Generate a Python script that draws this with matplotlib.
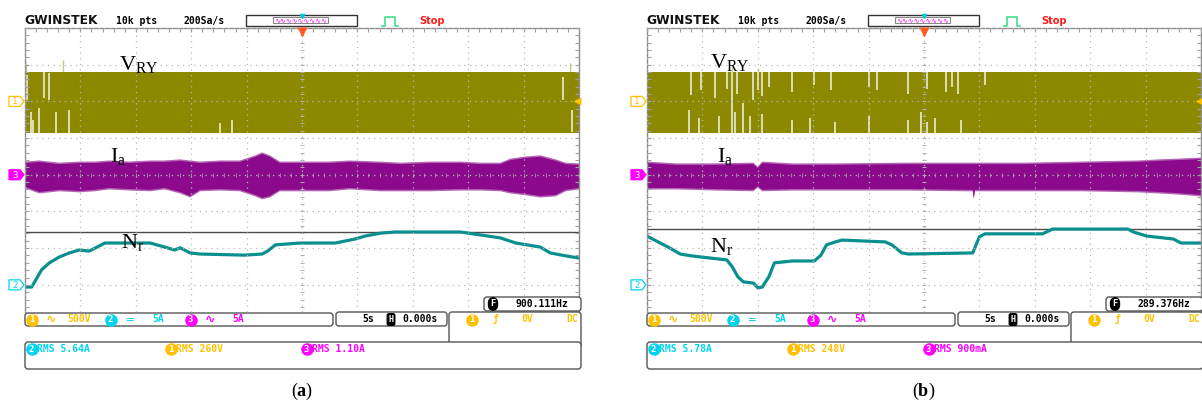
import numpy as np
import matplotlib
matplotlib.use("Agg")
import matplotlib.pyplot as plt
from matplotlib.patches import FancyBboxPatch, Rectangle, Polygon

plt.rcParams['mathtext.fontset'] = 'custom'
plt.rcParams['mathtext.rm'] = 'Liberation Serif'
plt.rcParams['mathtext.it'] = 'Liberation Serif:italic'
plt.rcParams['mathtext.bf'] = 'Liberation Serif:bold'

W, H = 1202, 403
OLIVE = '#8c8900'
PURPLE = '#8b0a8b'
TEAL = '#0a8f8f'
YEL = '#ffc000'
CYAN = '#00d4ee'
MAG = '#ff00ff'
MONO = 'DejaVu Sans Mono'

# ---- scope data: time in s (5 s/div), amplitude in screen divisions ----
ch1_offset, ch2_offset, ch3_offset = 2.0, -3.0, 0.0

# V_RY band (CH1)
vry_t = [-25.0, 25.0]
vry_top = [2.80, 2.80]
vry_bot = [1.14, 1.14]

# white dropouts inside the V_RY band, (a)
gap_a_t = [-24.8, -24.5, -24.3, -23.7, -23.3, -22.8, -22.2, -21.0, -7.4, -6.3, 23.6, 24.4]
gap_a_top = [2.72, 1.71, 1.49, 1.82, 2.80, 2.77, 1.71, 1.77, 1.41, 1.49, 2.66, 1.77]
gap_a_bot = [2.04, 1.14, 1.14, 1.14, 2.09, 2.04, 1.14, 1.14, 1.14, 1.14, 2.04, 1.17]

# white dropouts inside the V_RY band, (b)
gap_b_t = [-21.0, -20.1, -18.9, -17.8, -17.3, -16.9, -15.4, -15.0, -14.6, -14.0, -11.9,
           -9.9, -8.4, -5.0, -4.2, -1.4, 0.3, 2.0, 2.5, 3.1, 5.5,
           -21.2, -20.3, -18.5, -17.3, -17.1, -16.3, -15.7, -14.6, -11.9, -10.3, -8.0,
           -5.0, -1.4, -0.3, 0.3, 1.0, 3.3]
gap_b_top = [2.80] * 21 + [1.77, 1.55, 1.60, 1.90, 1.70, 1.95, 1.60, 1.65, 1.50, 1.55, 1.45,
                           1.60, 1.50, 1.70, 1.45, 1.55, 1.50]
gap_b_bot = [2.17, 2.30, 2.10, 2.35, 1.90, 2.20, 2.05, 2.30, 2.15, 2.40, 2.25,
             2.45, 2.30, 2.40, 2.30, 2.20, 2.35, 2.25, 2.40, 2.20, 2.45] + [1.14] * 17

# thin spikes poking above the V_RY band
spike_a_t, spike_a_top = [-24.9, -21.6, 24.2], [3.05, 3.13, 3.05]
spike_b_t, spike_b_top = [-15.0, -17.3], [2.92, 2.95]

# I_a envelope (CH3), (a)
ia_a_t = [-25.0, -23.7, -21.9, -20.1, -18.7, -17.4, -15.6, -13.7, -12.4, -11.0, -10.1,
          -9.2, -7.4, -5.6, -4.2, -3.6, -2.9, -2.0, -0.2, 2.5, 4.3, 7.0, 8.9, 11.6,
          14.3, 16.1, 17.9, 18.8, 20.2, 21.5, 22.9, 23.8, 25.0]
ia_a_up = [0.32, 0.35, 0.29, 0.32, 0.32, 0.35, 0.32, 0.35, 0.35, 0.38, 0.35,
           0.32, 0.35, 0.35, 0.49, 0.57, 0.49, 0.32, 0.32, 0.32, 0.35, 0.32, 0.29, 0.32,
           0.32, 0.29, 0.29, 0.40, 0.46, 0.49, 0.38, 0.29, 0.27]
ia_a_lo = [-0.33, -0.47, -0.41, -0.44, -0.41, -0.36, -0.39, -0.41, -0.36, -0.47, -0.58,
           -0.41, -0.39, -0.41, -0.55, -0.63, -0.58, -0.41, -0.41, -0.41, -0.36, -0.41, -0.41, -0.41,
           -0.39, -0.39, -0.41, -0.47, -0.52, -0.58, -0.55, -0.41, -0.36]

# I_a envelope (CH3), (b)
ia_b_t = [-25.0, -22.3, -18.9, -15.4, -15.0, -14.6, -11.9, -8.4, -1.4, 3.7, 4.4, 4.5,
          4.6, 9.0, 14.2, 19.3, 21.2, 22.9, 25.0]
ia_b_up = [0.32, 0.27, 0.27, 0.29, 0.18, 0.32, 0.27, 0.27, 0.29, 0.29, 0.29, 0.29,
           0.29, 0.29, 0.32, 0.35, 0.38, 0.40, 0.43]
ia_b_lo = [-0.36, -0.36, -0.39, -0.41, -0.31, -0.41, -0.39, -0.39, -0.39, -0.41, -0.41, -0.63,
           -0.41, -0.41, -0.41, -0.44, -0.47, -0.50, -0.55]

# N_r speed trace (CH2)
nr_a_t = [-25.0, -24.4, -23.5, -22.8, -21.9, -21.0, -20.1, -19.2, -18.3, -17.8, -13.7,
          -12.4, -11.5, -11.0, -10.1, -9.2, -5.2, -3.6, -3.1, -2.4, -0.2, 3.0, 4.8,
          5.7, 7.1, 8.4, 14.3, 16.1, 17.9, 19.3, 21.5, 22.4, 23.8, 25.0]
nr_a_div = [-3.06, -3.06, -2.59, -2.40, -2.24, -2.13, -2.05, -2.08, -1.94, -1.86, -1.86,
            -1.97, -2.05, -1.99, -2.13, -2.16, -2.19, -2.16, -2.08, -1.91, -1.86, -1.86, -1.75,
            -1.67, -1.59, -1.56, -1.56, -1.64, -1.72, -1.86, -1.97, -2.13, -2.21, -2.27]
nr_b_t = [-25.0, -24.0, -23.1, -22.0, -21.0, -19.3, -17.8, -17.3, -16.8, -16.3, -15.4,
          -15.0, -14.6, -14.0, -13.5, -11.9, -9.9, -9.3, -8.8, -8.0, -7.4, -3.5, -2.9,
          -2.0, -1.4, 4.4, 5.0, 5.5, 10.7, 11.6, 18.4, 18.9, 20.1, 22.5, 23.2, 25.0]
nr_b_div = [-1.67, -1.83, -1.97, -2.16, -2.21, -2.27, -2.32, -2.51, -2.78, -2.92, -2.95,
            -3.08, -3.06, -2.78, -2.40, -2.35, -2.35, -2.19, -1.91, -1.83, -1.78, -1.83, -1.91,
            -2.13, -2.16, -2.13, -1.69, -1.61, -1.61, -1.48, -1.48, -1.56, -1.67, -1.75, -1.86, -1.86]
cursor_a, cursor_b = -1.56, -1.48

# readouts
freq_a, freq_b = '900.111Hz', '289.376Hz'
rms_a = ['RMS 5.64A', 'RMS 260V', 'RMS 1.10A']
rms_b = ['RMS 5.78A', 'RMS 248V', 'RMS 900mA']
captions = ['a', 'b']

fig = plt.figure(figsize=(W / 100, H / 100), dpi=100)
ov = fig.add_axes([0, 0, 1, 1])
ov.set_xlim(0, W)
ov.set_ylim(H, 0)
ov.axis('off')
ov.set_zorder(10)
ov.patch.set_alpha(0)


def scope_axes(left):
    ax = fig.add_axes([left / W, (H - 312) / H, 554 / W, 284 / H])
    ax.set_xlim(-25, 25)
    ax.set_ylim(-3.74, 4)
    ax.set_xticks(np.arange(-25, 26, 5))
    ax.set_yticks(np.arange(-3, 5, 1))
    ax.set_xticks(np.arange(-25, 26, 1), minor=True)
    ax.set_yticks(np.arange(-3.6, 4.01, 0.2), minor=True)
    ax.tick_params(which='both', direction='in', top=True, right=True, bottom=False,
                   labelbottom=False, labelleft=False, color='#a0a0a0', length=3, width=0.8)
    ax.grid(True, which='major', color='#b8b8b8', linestyle=(0, (1, 3.5)), linewidth=0.9)
    ax.set_axisbelow(False)
    for s in ['left', 'top', 'right']:
        ax.spines[s].set_color('#8c8c8c')
        ax.spines[s].set_linewidth(1.0)
    ax.spines['bottom'].set_visible(False)
    # tick marks along the centre cross
    yy = np.arange(-3.6, 4.01, 0.2)
    ax.plot(np.zeros_like(yy), yy, ls='none', marker='_', ms=3, mew=0.7, color='#b0b0b0', zorder=3)
    xx = np.arange(-25, 26, 1)
    ax.plot(xx, np.zeros_like(xx), ls='none', marker='|', ms=2.5, mew=0.7, color='#b0b0b0',
            alpha=0.7, zorder=3)
    return ax


def badge(x, y, num, c):
    # filled channel disc with the channel number knocked out
    ov.plot(x + 4.5, y, marker='o', ms=9, color=c, mec='none')
    ov.text(x + 4.5, y + 0.3, num, color='white', fontsize=6.5, family=MONO,
            fontweight='bold', ha='center', va='center')


def draw_panel(L, gap_t, gap_top, gap_bot, spk_t, spk_top, ia_t, ia_up, ia_lo, nr_t, nr_div,
               cursor, freq, rms, cap, lab_pos):
    ax = scope_axes(L)
    ax.vlines(spk_t, 2.8, spk_top, color='#c9c68a', lw=1.0, zorder=0.9)
    ax.fill_between(vry_t, vry_bot, vry_top, color=OLIVE, lw=0, zorder=1)
    ax.vlines(gap_t, gap_bot, gap_top, color='white', lw=1.1, alpha=0.9, zorder=1.2)
    # fuzzy fringe of the current band, then its solid core
    ax.fill_between(ia_t, np.array(ia_lo) - 0.04, np.array(ia_up) + 0.04,
                    facecolor='#b565b5', lw=0, zorder=0.9)
    ax.fill_between(ia_t, ia_lo, ia_up, facecolor=PURPLE, lw=0, zorder=1)
    ax.axhline(cursor, color='#4a4a4a', lw=1.0, zorder=1.5)
    ax.plot(nr_t, nr_div, color=TEAL, lw=2.3, zorder=2)

    (vx, vy), (ix, iy), (nx, ny) = lab_pos
    ax.text(vx, vy, r'$\mathrm{V}_{\mathrm{RY}}$', fontsize=16, zorder=4)
    ax.text(ix, iy, r'$\mathrm{I}_{\mathrm{a}}$', fontsize=16, zorder=4)
    ax.text(nx, ny, r'$\mathrm{N}_{\mathrm{r}}$', fontsize=16, zorder=4)

    # header
    ov.text(L - 1, 21, 'GWINSTEK', fontsize=8.8, fontweight='heavy', color='#111111',
            va='center')
    ov.text(L + 91, 21, '10k pts', fontsize=7, family=MONO, fontweight='bold', va='center')
    ov.text(L + 159, 21, '200Sa/s', fontsize=7, family=MONO, fontweight='bold', va='center')
    ov.add_patch(Rectangle((L + 221, 15), 111, 11, fill=False, ec='#333333', lw=1))
    ov.add_patch(Rectangle((L + 248, 17), 55, 6, fill=False, ec='#888888', lw=0.8))
    ov.text(L + 275.5, 20.3, '∿' * 9, fontsize=5, color=MAG, ha='center', va='center')
    ov.plot(L + 277, 16, marker='v', ms=3, color='#00c8e0')
    ov.plot([L + 357, L + 360, L + 360, L + 370, L + 370, L + 373],
            [26, 26, 17, 17, 26, 26], color='#40e090', lw=1.2)
    ov.text(L + 394, 21, 'Stop', fontsize=7, fontweight='bold', color='#ff1a1a', va='center')

    # trigger position and level markers
    tx, ty = ax.transData.transform((0, 4))
    ov.plot(tx, H - ty + 3.5, marker='v', ms=7, color='#ff5a1f', mec='none')
    rx, ry = ax.transData.transform((25, ch1_offset))
    ov.plot(rx - 2, H - ry, marker='<', ms=6, color=YEL, mec='none')

    # channel ground markers
    for off, face, edge, num, tc in [(ch1_offset, 'white', YEL, '1', YEL),
                                     (ch3_offset, MAG, MAG, '3', 'white'),
                                     (ch2_offset, 'white', CYAN, '2', CYAN)]:
        mx, my = ax.transData.transform((-25, off))
        mx, my = mx - 1, H - my
        ov.add_patch(Polygon([(mx - 15, my - 5), (mx - 4, my - 5), (mx, my),
                              (mx - 4, my + 5), (mx - 15, my + 5)],
                             closed=True, fc=face, ec=edge, lw=0.9))
        ov.text(mx - 9, my + 0.5, num, fontsize=6.5, family=MONO, color=tc,
                ha='center', va='center')

    # status bar
    def box(x0, y0, x1, y1):
        ov.add_patch(FancyBboxPatch((x0, y0), x1 - x0, y1 - y0,
                                    boxstyle='round,pad=0,rounding_size=3',
                                    fc='white', ec='#555555', lw=1))

    box(L + 459, 297, L + 556, 311)
    box(L, 313, L + 308, 326)
    box(L + 311, 312, L + 422, 326)
    box(L + 424, 312, L + 556, 348)
    box(L, 342, L + 556, 369)

    def t(x, y, s, c, fam=MONO, size=7, **kw):
        ov.text(x, y, s, color=c, fontsize=size, family=fam, fontweight='bold',
                va='center', **kw)

    yb = 319.5
    badge(L + 2, yb, '1', YEL)
    t(L + 21, yb, '∿', YEL, fam='DejaVu Sans', size=9)
    t(L + 42, yb, '500V', YEL)
    badge(L + 81, yb, '2', CYAN)
    t(L + 101, yb, '═', CYAN, size=8)
    t(L + 127, yb, '5A', CYAN)
    badge(L + 161, yb, '3', MAG)
    t(L + 180, yb, '∿', MAG, fam='DejaVu Sans', size=9)
    t(L + 207, yb, '5A', MAG)
    t(L + 337, yb, '5s', 'black')
    ov.text(L + 366, yb, 'H', color='white', fontsize=6, family=MONO, fontweight='bold',
            ha='center', va='center',
            bbox=dict(boxstyle='round,pad=0.15,rounding_size=0.2', fc='black', ec='black'))
    t(L + 377, yb, '0.000s', 'black')
    badge(L + 442, yb, '1', YEL)
    t(L + 468, yb, 'ƒ', YEL)
    t(L + 496, yb, '0V', YEL)
    t(L + 553, yb, 'DC', YEL, ha='right')
    ov.text(L + 468, 304, 'F', color='white', fontsize=6.5, family=MONO, fontweight='bold',
            ha='center', va='center',
            bbox=dict(boxstyle='round,pad=0.2,rounding_size=0.6', fc='black', ec='black'))
    t(L + 490, 304, freq, 'black')

    yr = 349
    badge(L + 2, yr, '2', CYAN)
    t(L + 12, yr, rms[0], CYAN)
    badge(L + 141, yr, '1', YEL)
    t(L + 151, yr, rms[1], YEL)
    badge(L + 277, yr, '3', MAG)
    t(L + 287, yr, rms[2], MAG)

    ov.text(L + 277, 391, r'($\mathbf{%s}$)' % cap, fontsize=13, family='Liberation Serif',
            ha='center', va='center')


draw_panel(25, gap_a_t, gap_a_top, gap_a_bot, spike_a_t, spike_a_top,
           ia_a_t, ia_a_up, ia_a_lo, nr_a_t, nr_a_div,
           cursor_a, freq_a, rms_a, captions[0],
           [(-16.5, 2.86), (-17.3, 0.35), (-16.3, -1.99)])
draw_panel(647, gap_b_t, gap_b_top, gap_b_bot, spike_b_t, spike_b_top,
           ia_b_t, ia_b_up, ia_b_lo, nr_b_t, nr_b_div,
           cursor_b, freq_b, rms_b, captions[1],
           [(-19.3, 2.91), (-18.7, 0.35), (-19.3, -2.11)])

fig.savefig('out.png', dpi=100)
